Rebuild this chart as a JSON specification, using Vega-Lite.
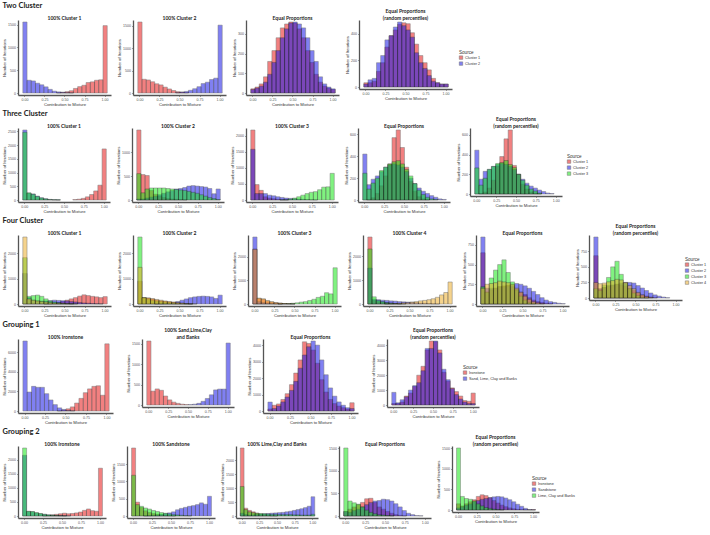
{
"$schema": "https://vega.github.io/schema/vega-lite/v6.json",
"background": "white",
"padding": {"left": 2, "top": 1, "right": 0, "bottom": 0},
"config": {
  "view": {"stroke": null},
  "bar": {"opacity": 0.55, "stroke": "#111", "strokeWidth": 0.5, "binSpacing": 0},
  "axis": {"grid": false, "domainColor": "#555", "domainWidth": 1.3, "tickColor": "#666", "tickSize": 1.5, "tickWidth": 0.6, "labelFontSize": 3.6, "labelColor": "#555", "labelFont": "Liberation Sans", "labelPadding": 1, "titleFontSize": 4.2, "titleFont": "Liberation Sans", "titleFontWeight": "normal", "titleColor": "#333", "titlePadding": 1},
  "title": {"fontSize": 5, "font": "Lato", "fontWeight": "bold", "color": "#222", "offset": -1},
  "legend": {"titleFontSize": 4.6, "titleFont": "Liberation Sans", "titleFontWeight": "normal", "titleColor": "#333", "labelFontSize": 3.8, "labelFont": "Liberation Sans", "labelColor": "#333", "symbolType": "square", "symbolSize": 12, "symbolOpacity": 0.55, "symbolStrokeColor": "#000", "symbolStrokeWidth": 0.5, "rowPadding": 0, "titlePadding": 1, "labelOffset": 2}
},
"datasets": {
"d1a": [{"s":"Cluster 1","x":0.395,"n":5},{"s":"Cluster 1","x":0.447,"n":15},{"s":"Cluster 1","x":0.5,"n":30},{"s":"Cluster 1","x":0.553,"n":50},{"s":"Cluster 1","x":0.605,"n":100},{"s":"Cluster 1","x":0.658,"n":140},{"s":"Cluster 1","x":0.711,"n":170},{"s":"Cluster 1","x":0.763,"n":230},{"s":"Cluster 1","x":0.816,"n":245},{"s":"Cluster 1","x":0.868,"n":280},{"s":"Cluster 1","x":0.921,"n":290},{"s":"Cluster 1","x":0.974,"n":1480},
{"s":"Cluster 2","x":-0.026,"n":1560},{"s":"Cluster 2","x":0.026,"n":280},{"s":"Cluster 2","x":0.079,"n":265},{"s":"Cluster 2","x":0.132,"n":215},{"s":"Cluster 2","x":0.184,"n":180},{"s":"Cluster 2","x":0.237,"n":135},{"s":"Cluster 2","x":0.289,"n":80},{"s":"Cluster 2","x":0.342,"n":40},{"s":"Cluster 2","x":0.395,"n":25},{"s":"Cluster 2","x":0.447,"n":15},{"s":"Cluster 2","x":0.5,"n":8},{"s":"Cluster 2","x":0.553,"n":3}],
"d1b": [{"s":"Cluster 1","x":-0.026,"n":1580},{"s":"Cluster 1","x":0.026,"n":305},{"s":"Cluster 1","x":0.079,"n":290},{"s":"Cluster 1","x":0.132,"n":250},{"s":"Cluster 1","x":0.184,"n":205},{"s":"Cluster 1","x":0.237,"n":180},{"s":"Cluster 1","x":0.289,"n":130},{"s":"Cluster 1","x":0.342,"n":90},{"s":"Cluster 1","x":0.395,"n":55},{"s":"Cluster 1","x":0.447,"n":30},{"s":"Cluster 1","x":0.5,"n":20},{"s":"Cluster 1","x":0.553,"n":8},
{"s":"Cluster 2","x":0.447,"n":8},{"s":"Cluster 2","x":0.5,"n":20},{"s":"Cluster 2","x":0.553,"n":35},{"s":"Cluster 2","x":0.605,"n":60},{"s":"Cluster 2","x":0.658,"n":95},{"s":"Cluster 2","x":0.711,"n":140},{"s":"Cluster 2","x":0.763,"n":210},{"s":"Cluster 2","x":0.816,"n":240},{"s":"Cluster 2","x":0.868,"n":300},{"s":"Cluster 2","x":0.921,"n":330},{"s":"Cluster 2","x":0.974,"n":1510}],
"d1c": [{"s":"Cluster 1","x":-0.026,"n":21},{"s":"Cluster 1","x":0.026,"n":30},{"s":"Cluster 1","x":0.079,"n":46},{"s":"Cluster 1","x":0.132,"n":82},{"s":"Cluster 1","x":0.184,"n":160},{"s":"Cluster 1","x":0.237,"n":215},{"s":"Cluster 1","x":0.289,"n":280},{"s":"Cluster 1","x":0.342,"n":330},{"s":"Cluster 1","x":0.395,"n":350},{"s":"Cluster 1","x":0.447,"n":360},{"s":"Cluster 1","x":0.5,"n":355},{"s":"Cluster 1","x":0.553,"n":325},{"s":"Cluster 1","x":0.605,"n":280},{"s":"Cluster 1","x":0.658,"n":215},{"s":"Cluster 1","x":0.711,"n":155},{"s":"Cluster 1","x":0.763,"n":95},{"s":"Cluster 1","x":0.816,"n":55},{"s":"Cluster 1","x":0.868,"n":35},{"s":"Cluster 1","x":0.921,"n":25},{"s":"Cluster 1","x":0.974,"n":18},
{"s":"Cluster 2","x":-0.026,"n":18},{"s":"Cluster 2","x":0.026,"n":25},{"s":"Cluster 2","x":0.079,"n":35},{"s":"Cluster 2","x":0.132,"n":55},{"s":"Cluster 2","x":0.184,"n":95},{"s":"Cluster 2","x":0.237,"n":155},{"s":"Cluster 2","x":0.289,"n":215},{"s":"Cluster 2","x":0.342,"n":280},{"s":"Cluster 2","x":0.395,"n":325},{"s":"Cluster 2","x":0.447,"n":355},{"s":"Cluster 2","x":0.5,"n":360},{"s":"Cluster 2","x":0.553,"n":350},{"s":"Cluster 2","x":0.605,"n":330},{"s":"Cluster 2","x":0.658,"n":280},{"s":"Cluster 2","x":0.711,"n":215},{"s":"Cluster 2","x":0.763,"n":160},{"s":"Cluster 2","x":0.816,"n":82},{"s":"Cluster 2","x":0.868,"n":46},{"s":"Cluster 2","x":0.921,"n":30},{"s":"Cluster 2","x":0.974,"n":21}],
"d1d": [{"s":"Cluster 1","x":-0.026,"n":32},{"s":"Cluster 1","x":0.026,"n":32},{"s":"Cluster 1","x":0.079,"n":43},{"s":"Cluster 1","x":0.132,"n":118},{"s":"Cluster 1","x":0.184,"n":183},{"s":"Cluster 1","x":0.237,"n":301},{"s":"Cluster 1","x":0.289,"n":387},{"s":"Cluster 1","x":0.342,"n":430},{"s":"Cluster 1","x":0.395,"n":473},{"s":"Cluster 1","x":0.447,"n":484},{"s":"Cluster 1","x":0.5,"n":477},{"s":"Cluster 1","x":0.553,"n":409},{"s":"Cluster 1","x":0.605,"n":323},{"s":"Cluster 1","x":0.658,"n":237},{"s":"Cluster 1","x":0.711,"n":183},{"s":"Cluster 1","x":0.763,"n":129},{"s":"Cluster 1","x":0.816,"n":65},{"s":"Cluster 1","x":0.868,"n":32},{"s":"Cluster 1","x":0.921,"n":22},{"s":"Cluster 1","x":0.974,"n":22},
{"s":"Cluster 2","x":-0.026,"n":22},{"s":"Cluster 2","x":0.026,"n":54},{"s":"Cluster 2","x":0.079,"n":65},{"s":"Cluster 2","x":0.132,"n":183},{"s":"Cluster 2","x":0.184,"n":237},{"s":"Cluster 2","x":0.237,"n":355},{"s":"Cluster 2","x":0.289,"n":387},{"s":"Cluster 2","x":0.342,"n":452},{"s":"Cluster 2","x":0.395,"n":490},{"s":"Cluster 2","x":0.447,"n":462},{"s":"Cluster 2","x":0.5,"n":430},{"s":"Cluster 2","x":0.553,"n":376},{"s":"Cluster 2","x":0.605,"n":258},{"s":"Cluster 2","x":0.658,"n":183},{"s":"Cluster 2","x":0.711,"n":140},{"s":"Cluster 2","x":0.763,"n":86},{"s":"Cluster 2","x":0.816,"n":43},{"s":"Cluster 2","x":0.868,"n":32},{"s":"Cluster 2","x":0.921,"n":22},{"s":"Cluster 2","x":0.974,"n":22}],
"d2a": [{"s":"Cluster 1","x":0.605,"n":15},{"s":"Cluster 1","x":0.658,"n":30},{"s":"Cluster 1","x":0.711,"n":60},{"s":"Cluster 1","x":0.763,"n":115},{"s":"Cluster 1","x":0.816,"n":200},{"s":"Cluster 1","x":0.868,"n":330},{"s":"Cluster 1","x":0.921,"n":540},{"s":"Cluster 1","x":0.974,"n":1860},
{"s":"Cluster 2","x":-0.026,"n":2550},{"s":"Cluster 2","x":0.026,"n":250},{"s":"Cluster 2","x":0.079,"n":220},{"s":"Cluster 2","x":0.132,"n":140},{"s":"Cluster 2","x":0.184,"n":80},{"s":"Cluster 2","x":0.237,"n":45},{"s":"Cluster 2","x":0.289,"n":20},{"s":"Cluster 2","x":0.342,"n":10},{"s":"Cluster 2","x":0.395,"n":5},
{"s":"Cluster 3","x":-0.026,"n":2470},{"s":"Cluster 3","x":0.026,"n":260},{"s":"Cluster 3","x":0.079,"n":210},{"s":"Cluster 3","x":0.132,"n":130},{"s":"Cluster 3","x":0.184,"n":75},{"s":"Cluster 3","x":0.237,"n":40},{"s":"Cluster 3","x":0.289,"n":20},{"s":"Cluster 3","x":0.342,"n":10},{"s":"Cluster 3","x":0.395,"n":5}],
"d2b": [{"s":"Cluster 1","x":-0.026,"n":1460},{"s":"Cluster 1","x":0.026,"n":530},{"s":"Cluster 1","x":0.079,"n":510},{"s":"Cluster 1","x":0.132,"n":200},{"s":"Cluster 1","x":0.184,"n":120},{"s":"Cluster 1","x":0.237,"n":80},{"s":"Cluster 1","x":0.289,"n":50},{"s":"Cluster 1","x":0.342,"n":30},{"s":"Cluster 1","x":0.395,"n":20},{"s":"Cluster 1","x":0.447,"n":15},{"s":"Cluster 1","x":0.5,"n":10},{"s":"Cluster 1","x":0.553,"n":5},
{"s":"Cluster 2","x":-0.026,"n":20},{"s":"Cluster 2","x":0.026,"n":20},{"s":"Cluster 2","x":0.079,"n":40},{"s":"Cluster 2","x":0.132,"n":60},{"s":"Cluster 2","x":0.184,"n":80},{"s":"Cluster 2","x":0.237,"n":110},{"s":"Cluster 2","x":0.289,"n":140},{"s":"Cluster 2","x":0.342,"n":170},{"s":"Cluster 2","x":0.395,"n":200},{"s":"Cluster 2","x":0.447,"n":230},{"s":"Cluster 2","x":0.5,"n":240},{"s":"Cluster 2","x":0.553,"n":260},{"s":"Cluster 2","x":0.605,"n":290},{"s":"Cluster 2","x":0.658,"n":300},{"s":"Cluster 2","x":0.711,"n":290},{"s":"Cluster 2","x":0.763,"n":280},{"s":"Cluster 2","x":0.816,"n":270},{"s":"Cluster 2","x":0.868,"n":240},{"s":"Cluster 2","x":0.921,"n":130},{"s":"Cluster 2","x":0.974,"n":230},
{"s":"Cluster 3","x":-0.026,"n":550},{"s":"Cluster 3","x":0.026,"n":150},{"s":"Cluster 3","x":0.079,"n":230},{"s":"Cluster 3","x":0.132,"n":250},{"s":"Cluster 3","x":0.184,"n":250},{"s":"Cluster 3","x":0.237,"n":250},{"s":"Cluster 3","x":0.289,"n":250},{"s":"Cluster 3","x":0.342,"n":240},{"s":"Cluster 3","x":0.395,"n":230},{"s":"Cluster 3","x":0.447,"n":220},{"s":"Cluster 3","x":0.5,"n":210},{"s":"Cluster 3","x":0.553,"n":200},{"s":"Cluster 3","x":0.605,"n":180},{"s":"Cluster 3","x":0.658,"n":160},{"s":"Cluster 3","x":0.711,"n":140},{"s":"Cluster 3","x":0.763,"n":110},{"s":"Cluster 3","x":0.816,"n":80},{"s":"Cluster 3","x":0.868,"n":50},{"s":"Cluster 3","x":0.921,"n":30},{"s":"Cluster 3","x":0.974,"n":10}],
"d2c": [{"s":"Cluster 1","x":-0.026,"n":2180},{"s":"Cluster 1","x":0.026,"n":480},{"s":"Cluster 1","x":0.079,"n":300},{"s":"Cluster 1","x":0.132,"n":100},{"s":"Cluster 1","x":0.184,"n":60},{"s":"Cluster 1","x":0.237,"n":40},{"s":"Cluster 1","x":0.289,"n":20},{"s":"Cluster 1","x":0.342,"n":10},{"s":"Cluster 1","x":0.395,"n":5},
{"s":"Cluster 2","x":-0.026,"n":1580},{"s":"Cluster 2","x":0.026,"n":200},{"s":"Cluster 2","x":0.079,"n":200},{"s":"Cluster 2","x":0.132,"n":200},{"s":"Cluster 2","x":0.184,"n":150},{"s":"Cluster 2","x":0.237,"n":130},{"s":"Cluster 2","x":0.289,"n":100},{"s":"Cluster 2","x":0.342,"n":80},{"s":"Cluster 2","x":0.395,"n":60},{"s":"Cluster 2","x":0.447,"n":50},{"s":"Cluster 2","x":0.5,"n":40},{"s":"Cluster 2","x":0.553,"n":30},{"s":"Cluster 2","x":0.605,"n":20},{"s":"Cluster 2","x":0.658,"n":15},{"s":"Cluster 2","x":0.711,"n":10},{"s":"Cluster 2","x":0.763,"n":5},
{"s":"Cluster 3","x":0.342,"n":5},{"s":"Cluster 3","x":0.395,"n":10},{"s":"Cluster 3","x":0.447,"n":30},{"s":"Cluster 3","x":0.5,"n":60},{"s":"Cluster 3","x":0.553,"n":100},{"s":"Cluster 3","x":0.605,"n":150},{"s":"Cluster 3","x":0.658,"n":200},{"s":"Cluster 3","x":0.711,"n":240},{"s":"Cluster 3","x":0.763,"n":260},{"s":"Cluster 3","x":0.816,"n":320},{"s":"Cluster 3","x":0.868,"n":400},{"s":"Cluster 3","x":0.921,"n":410},{"s":"Cluster 3","x":0.974,"n":830}],
"d2d": [{"s":"Cluster 1","x":0.026,"n":5},{"s":"Cluster 1","x":0.079,"n":20},{"s":"Cluster 1","x":0.132,"n":60},{"s":"Cluster 1","x":0.184,"n":130},{"s":"Cluster 1","x":0.237,"n":220},{"s":"Cluster 1","x":0.289,"n":330},{"s":"Cluster 1","x":0.342,"n":570},{"s":"Cluster 1","x":0.395,"n":640},{"s":"Cluster 1","x":0.447,"n":480},{"s":"Cluster 1","x":0.5,"n":300},{"s":"Cluster 1","x":0.553,"n":170},{"s":"Cluster 1","x":0.605,"n":80},{"s":"Cluster 1","x":0.658,"n":30},{"s":"Cluster 1","x":0.711,"n":10},{"s":"Cluster 1","x":0.763,"n":5},
{"s":"Cluster 2","x":-0.026,"n":420},{"s":"Cluster 2","x":0.026,"n":140},{"s":"Cluster 2","x":0.079,"n":190},{"s":"Cluster 2","x":0.132,"n":220},{"s":"Cluster 2","x":0.184,"n":260},{"s":"Cluster 2","x":0.237,"n":300},{"s":"Cluster 2","x":0.289,"n":320},{"s":"Cluster 2","x":0.342,"n":330},{"s":"Cluster 2","x":0.395,"n":320},{"s":"Cluster 2","x":0.447,"n":300},{"s":"Cluster 2","x":0.5,"n":260},{"s":"Cluster 2","x":0.553,"n":200},{"s":"Cluster 2","x":0.605,"n":150},{"s":"Cluster 2","x":0.658,"n":110},{"s":"Cluster 2","x":0.711,"n":80},{"s":"Cluster 2","x":0.763,"n":60},{"s":"Cluster 2","x":0.816,"n":40},{"s":"Cluster 2","x":0.868,"n":25},{"s":"Cluster 2","x":0.921,"n":10},{"s":"Cluster 2","x":0.974,"n":5},
{"s":"Cluster 3","x":-0.026,"n":245},{"s":"Cluster 3","x":0.026,"n":100},{"s":"Cluster 3","x":0.079,"n":155},{"s":"Cluster 3","x":0.132,"n":200},{"s":"Cluster 3","x":0.184,"n":270},{"s":"Cluster 3","x":0.237,"n":300},{"s":"Cluster 3","x":0.289,"n":330},{"s":"Cluster 3","x":0.342,"n":350},{"s":"Cluster 3","x":0.395,"n":360},{"s":"Cluster 3","x":0.447,"n":330},{"s":"Cluster 3","x":0.5,"n":280},{"s":"Cluster 3","x":0.553,"n":220},{"s":"Cluster 3","x":0.605,"n":150},{"s":"Cluster 3","x":0.658,"n":90},{"s":"Cluster 3","x":0.711,"n":50},{"s":"Cluster 3","x":0.763,"n":25},{"s":"Cluster 3","x":0.816,"n":10},{"s":"Cluster 3","x":0.868,"n":5}],
"d2e": [{"s":"Cluster 1","x":0.026,"n":5},{"s":"Cluster 1","x":0.079,"n":20},{"s":"Cluster 1","x":0.132,"n":60},{"s":"Cluster 1","x":0.184,"n":140},{"s":"Cluster 1","x":0.237,"n":280},{"s":"Cluster 1","x":0.289,"n":380},{"s":"Cluster 1","x":0.342,"n":560},{"s":"Cluster 1","x":0.395,"n":650},{"s":"Cluster 1","x":0.447,"n":290},{"s":"Cluster 1","x":0.5,"n":200},{"s":"Cluster 1","x":0.553,"n":100},{"s":"Cluster 1","x":0.605,"n":50},{"s":"Cluster 1","x":0.658,"n":20},{"s":"Cluster 1","x":0.711,"n":10},{"s":"Cluster 1","x":0.763,"n":5},
{"s":"Cluster 2","x":-0.026,"n":445},{"s":"Cluster 2","x":0.026,"n":150},{"s":"Cluster 2","x":0.079,"n":230},{"s":"Cluster 2","x":0.132,"n":250},{"s":"Cluster 2","x":0.184,"n":280},{"s":"Cluster 2","x":0.237,"n":300},{"s":"Cluster 2","x":0.289,"n":310},{"s":"Cluster 2","x":0.342,"n":300},{"s":"Cluster 2","x":0.395,"n":280},{"s":"Cluster 2","x":0.447,"n":250},{"s":"Cluster 2","x":0.5,"n":200},{"s":"Cluster 2","x":0.553,"n":150},{"s":"Cluster 2","x":0.605,"n":110},{"s":"Cluster 2","x":0.658,"n":80},{"s":"Cluster 2","x":0.711,"n":60},{"s":"Cluster 2","x":0.763,"n":40},{"s":"Cluster 2","x":0.816,"n":25},{"s":"Cluster 2","x":0.868,"n":10},{"s":"Cluster 2","x":0.921,"n":5},
{"s":"Cluster 3","x":-0.026,"n":265},{"s":"Cluster 3","x":0.026,"n":90},{"s":"Cluster 3","x":0.079,"n":160},{"s":"Cluster 3","x":0.132,"n":250},{"s":"Cluster 3","x":0.184,"n":280},{"s":"Cluster 3","x":0.237,"n":310},{"s":"Cluster 3","x":0.289,"n":320},{"s":"Cluster 3","x":0.342,"n":340},{"s":"Cluster 3","x":0.395,"n":300},{"s":"Cluster 3","x":0.447,"n":270},{"s":"Cluster 3","x":0.5,"n":200},{"s":"Cluster 3","x":0.553,"n":140},{"s":"Cluster 3","x":0.605,"n":90},{"s":"Cluster 3","x":0.658,"n":50},{"s":"Cluster 3","x":0.711,"n":30},{"s":"Cluster 3","x":0.763,"n":10}],
"d3a": [{"s":"Cluster 1","x":0.237,"n":5},{"s":"Cluster 1","x":0.289,"n":10},{"s":"Cluster 1","x":0.342,"n":30},{"s":"Cluster 1","x":0.395,"n":60},{"s":"Cluster 1","x":0.447,"n":100},{"s":"Cluster 1","x":0.5,"n":150},{"s":"Cluster 1","x":0.553,"n":200},{"s":"Cluster 1","x":0.605,"n":250},{"s":"Cluster 1","x":0.658,"n":310},{"s":"Cluster 1","x":0.711,"n":360},{"s":"Cluster 1","x":0.763,"n":330},{"s":"Cluster 1","x":0.816,"n":300},{"s":"Cluster 1","x":0.868,"n":280},{"s":"Cluster 1","x":0.921,"n":250},{"s":"Cluster 1","x":0.974,"n":290},
{"s":"Cluster 2","x":-0.026,"n":1200},{"s":"Cluster 2","x":0.026,"n":250},{"s":"Cluster 2","x":0.079,"n":150},{"s":"Cluster 2","x":0.132,"n":120},{"s":"Cluster 2","x":0.184,"n":110},{"s":"Cluster 2","x":0.237,"n":120},{"s":"Cluster 2","x":0.289,"n":130},{"s":"Cluster 2","x":0.342,"n":150},{"s":"Cluster 2","x":0.395,"n":140},{"s":"Cluster 2","x":0.447,"n":130},{"s":"Cluster 2","x":0.5,"n":120},{"s":"Cluster 2","x":0.553,"n":100},{"s":"Cluster 2","x":0.605,"n":80},{"s":"Cluster 2","x":0.658,"n":60},{"s":"Cluster 2","x":0.711,"n":40},{"s":"Cluster 2","x":0.763,"n":30},{"s":"Cluster 2","x":0.816,"n":20},{"s":"Cluster 2","x":0.868,"n":10},{"s":"Cluster 2","x":0.921,"n":5},
{"s":"Cluster 3","x":-0.026,"n":1820},{"s":"Cluster 3","x":0.026,"n":300},{"s":"Cluster 3","x":0.079,"n":330},{"s":"Cluster 3","x":0.132,"n":350},{"s":"Cluster 3","x":0.184,"n":300},{"s":"Cluster 3","x":0.237,"n":200},{"s":"Cluster 3","x":0.289,"n":120},{"s":"Cluster 3","x":0.342,"n":80},{"s":"Cluster 3","x":0.395,"n":50},{"s":"Cluster 3","x":0.447,"n":30},{"s":"Cluster 3","x":0.5,"n":20},{"s":"Cluster 3","x":0.553,"n":10},{"s":"Cluster 3","x":0.605,"n":5},
{"s":"Cluster 4","x":-0.026,"n":2630},{"s":"Cluster 4","x":0.026,"n":200},{"s":"Cluster 4","x":0.079,"n":150},{"s":"Cluster 4","x":0.132,"n":120},{"s":"Cluster 4","x":0.184,"n":100},{"s":"Cluster 4","x":0.237,"n":80},{"s":"Cluster 4","x":0.289,"n":60},{"s":"Cluster 4","x":0.342,"n":40},{"s":"Cluster 4","x":0.395,"n":30},{"s":"Cluster 4","x":0.447,"n":20},{"s":"Cluster 4","x":0.5,"n":10},{"s":"Cluster 4","x":0.553,"n":5}],
"d3b": [{"s":"Cluster 1","x":-0.026,"n":900},{"s":"Cluster 1","x":0.026,"n":250},{"s":"Cluster 1","x":0.079,"n":230},{"s":"Cluster 1","x":0.132,"n":200},{"s":"Cluster 1","x":0.184,"n":150},{"s":"Cluster 1","x":0.237,"n":120},{"s":"Cluster 1","x":0.289,"n":100},{"s":"Cluster 1","x":0.342,"n":80},{"s":"Cluster 1","x":0.395,"n":60},{"s":"Cluster 1","x":0.447,"n":40},{"s":"Cluster 1","x":0.5,"n":20},{"s":"Cluster 1","x":0.553,"n":10},{"s":"Cluster 1","x":0.605,"n":5},
{"s":"Cluster 2","x":0.184,"n":5},{"s":"Cluster 2","x":0.237,"n":10},{"s":"Cluster 2","x":0.289,"n":20},{"s":"Cluster 2","x":0.342,"n":40},{"s":"Cluster 2","x":0.395,"n":60},{"s":"Cluster 2","x":0.447,"n":100},{"s":"Cluster 2","x":0.5,"n":150},{"s":"Cluster 2","x":0.553,"n":200},{"s":"Cluster 2","x":0.605,"n":250},{"s":"Cluster 2","x":0.658,"n":280},{"s":"Cluster 2","x":0.711,"n":300},{"s":"Cluster 2","x":0.763,"n":310},{"s":"Cluster 2","x":0.816,"n":300},{"s":"Cluster 2","x":0.868,"n":280},{"s":"Cluster 2","x":0.921,"n":220},{"s":"Cluster 2","x":0.974,"n":350},
{"s":"Cluster 3","x":-0.026,"n":2650},{"s":"Cluster 3","x":0.026,"n":250},{"s":"Cluster 3","x":0.079,"n":200},{"s":"Cluster 3","x":0.132,"n":150},{"s":"Cluster 3","x":0.184,"n":120},{"s":"Cluster 3","x":0.237,"n":100},{"s":"Cluster 3","x":0.289,"n":80},{"s":"Cluster 3","x":0.342,"n":60},{"s":"Cluster 3","x":0.395,"n":40},{"s":"Cluster 3","x":0.447,"n":30},{"s":"Cluster 3","x":0.5,"n":20},{"s":"Cluster 3","x":0.553,"n":10},{"s":"Cluster 3","x":0.605,"n":5},
{"s":"Cluster 4","x":-0.026,"n":1450},{"s":"Cluster 4","x":0.026,"n":250},{"s":"Cluster 4","x":0.079,"n":240},{"s":"Cluster 4","x":0.132,"n":210},{"s":"Cluster 4","x":0.184,"n":180},{"s":"Cluster 4","x":0.237,"n":150},{"s":"Cluster 4","x":0.289,"n":120},{"s":"Cluster 4","x":0.342,"n":100},{"s":"Cluster 4","x":0.395,"n":80},{"s":"Cluster 4","x":0.447,"n":60},{"s":"Cluster 4","x":0.5,"n":40},{"s":"Cluster 4","x":0.553,"n":20},{"s":"Cluster 4","x":0.605,"n":10},{"s":"Cluster 4","x":0.658,"n":5}],
"d3c": [{"s":"Cluster 1","x":-0.026,"n":2330},{"s":"Cluster 1","x":0.026,"n":230},{"s":"Cluster 1","x":0.079,"n":200},{"s":"Cluster 1","x":0.132,"n":120},{"s":"Cluster 1","x":0.184,"n":80},{"s":"Cluster 1","x":0.237,"n":50},{"s":"Cluster 1","x":0.289,"n":30},{"s":"Cluster 1","x":0.342,"n":20},{"s":"Cluster 1","x":0.395,"n":10},{"s":"Cluster 1","x":0.447,"n":5},
{"s":"Cluster 2","x":-0.026,"n":2850},{"s":"Cluster 2","x":0.026,"n":100},{"s":"Cluster 2","x":0.079,"n":60},{"s":"Cluster 2","x":0.132,"n":40},{"s":"Cluster 2","x":0.184,"n":20},{"s":"Cluster 2","x":0.237,"n":10},{"s":"Cluster 2","x":0.289,"n":5},
{"s":"Cluster 3","x":0.289,"n":5},{"s":"Cluster 3","x":0.342,"n":10},{"s":"Cluster 3","x":0.395,"n":20},{"s":"Cluster 3","x":0.447,"n":30},{"s":"Cluster 3","x":0.5,"n":50},{"s":"Cluster 3","x":0.553,"n":80},{"s":"Cluster 3","x":0.605,"n":100},{"s":"Cluster 3","x":0.658,"n":150},{"s":"Cluster 3","x":0.711,"n":200},{"s":"Cluster 3","x":0.763,"n":280},{"s":"Cluster 3","x":0.816,"n":330},{"s":"Cluster 3","x":0.868,"n":480},{"s":"Cluster 3","x":0.921,"n":430},{"s":"Cluster 3","x":0.974,"n":1540},
{"s":"Cluster 4","x":-0.026,"n":2330},{"s":"Cluster 4","x":0.026,"n":250},{"s":"Cluster 4","x":0.079,"n":220},{"s":"Cluster 4","x":0.132,"n":150},{"s":"Cluster 4","x":0.184,"n":100},{"s":"Cluster 4","x":0.237,"n":60},{"s":"Cluster 4","x":0.289,"n":40},{"s":"Cluster 4","x":0.342,"n":20},{"s":"Cluster 4","x":0.395,"n":10},{"s":"Cluster 4","x":0.447,"n":5}],
"d3d": [{"s":"Cluster 1","x":-0.026,"n":2800},{"s":"Cluster 1","x":0.026,"n":150},{"s":"Cluster 1","x":0.079,"n":100},{"s":"Cluster 1","x":0.132,"n":80},{"s":"Cluster 1","x":0.184,"n":60},{"s":"Cluster 1","x":0.237,"n":40},{"s":"Cluster 1","x":0.289,"n":20},{"s":"Cluster 1","x":0.342,"n":10},
{"s":"Cluster 2","x":-0.026,"n":1500},{"s":"Cluster 2","x":0.026,"n":200},{"s":"Cluster 2","x":0.079,"n":180},{"s":"Cluster 2","x":0.132,"n":160},{"s":"Cluster 2","x":0.184,"n":150},{"s":"Cluster 2","x":0.237,"n":130},{"s":"Cluster 2","x":0.289,"n":120},{"s":"Cluster 2","x":0.342,"n":100},{"s":"Cluster 2","x":0.395,"n":90},{"s":"Cluster 2","x":0.447,"n":80},{"s":"Cluster 2","x":0.5,"n":70},{"s":"Cluster 2","x":0.553,"n":60},{"s":"Cluster 2","x":0.605,"n":40},{"s":"Cluster 2","x":0.658,"n":30},{"s":"Cluster 2","x":0.711,"n":20},{"s":"Cluster 2","x":0.763,"n":10},{"s":"Cluster 2","x":0.816,"n":5},
{"s":"Cluster 3","x":-0.026,"n":2300},{"s":"Cluster 3","x":0.026,"n":300},{"s":"Cluster 3","x":0.079,"n":150},{"s":"Cluster 3","x":0.132,"n":100},{"s":"Cluster 3","x":0.184,"n":60},{"s":"Cluster 3","x":0.237,"n":40},{"s":"Cluster 3","x":0.289,"n":20},{"s":"Cluster 3","x":0.342,"n":10},{"s":"Cluster 3","x":0.395,"n":5},
{"s":"Cluster 4","x":0.184,"n":5},{"s":"Cluster 4","x":0.237,"n":10},{"s":"Cluster 4","x":0.289,"n":20},{"s":"Cluster 4","x":0.342,"n":30},{"s":"Cluster 4","x":0.395,"n":50},{"s":"Cluster 4","x":0.447,"n":60},{"s":"Cluster 4","x":0.5,"n":80},{"s":"Cluster 4","x":0.553,"n":100},{"s":"Cluster 4","x":0.605,"n":130},{"s":"Cluster 4","x":0.658,"n":150},{"s":"Cluster 4","x":0.711,"n":180},{"s":"Cluster 4","x":0.763,"n":220},{"s":"Cluster 4","x":0.816,"n":280},{"s":"Cluster 4","x":0.868,"n":380},{"s":"Cluster 4","x":0.921,"n":480},{"s":"Cluster 4","x":0.974,"n":920}],
"d3e": [{"s":"Cluster 1","x":-0.026,"n":650},{"s":"Cluster 1","x":0.026,"n":150},{"s":"Cluster 1","x":0.079,"n":180},{"s":"Cluster 1","x":0.132,"n":200},{"s":"Cluster 1","x":0.184,"n":220},{"s":"Cluster 1","x":0.237,"n":230},{"s":"Cluster 1","x":0.289,"n":240},{"s":"Cluster 1","x":0.342,"n":220},{"s":"Cluster 1","x":0.395,"n":180},{"s":"Cluster 1","x":0.447,"n":150},{"s":"Cluster 1","x":0.5,"n":120},{"s":"Cluster 1","x":0.553,"n":80},{"s":"Cluster 1","x":0.605,"n":50},{"s":"Cluster 1","x":0.658,"n":30},{"s":"Cluster 1","x":0.711,"n":20},{"s":"Cluster 1","x":0.763,"n":10},{"s":"Cluster 1","x":0.816,"n":5},
{"s":"Cluster 2","x":-0.026,"n":850},{"s":"Cluster 2","x":0.026,"n":200},{"s":"Cluster 2","x":0.079,"n":200},{"s":"Cluster 2","x":0.132,"n":200},{"s":"Cluster 2","x":0.184,"n":220},{"s":"Cluster 2","x":0.237,"n":220},{"s":"Cluster 2","x":0.289,"n":230},{"s":"Cluster 2","x":0.342,"n":240},{"s":"Cluster 2","x":0.395,"n":260},{"s":"Cluster 2","x":0.447,"n":250},{"s":"Cluster 2","x":0.5,"n":230},{"s":"Cluster 2","x":0.553,"n":200},{"s":"Cluster 2","x":0.605,"n":160},{"s":"Cluster 2","x":0.658,"n":120},{"s":"Cluster 2","x":0.711,"n":80},{"s":"Cluster 2","x":0.763,"n":50},{"s":"Cluster 2","x":0.816,"n":30},{"s":"Cluster 2","x":0.868,"n":20},{"s":"Cluster 2","x":0.921,"n":10},{"s":"Cluster 2","x":0.974,"n":5},
{"s":"Cluster 3","x":-0.026,"n":220},{"s":"Cluster 3","x":0.026,"n":150},{"s":"Cluster 3","x":0.079,"n":330},{"s":"Cluster 3","x":0.132,"n":430},{"s":"Cluster 3","x":0.184,"n":500},{"s":"Cluster 3","x":0.237,"n":560},{"s":"Cluster 3","x":0.289,"n":400},{"s":"Cluster 3","x":0.342,"n":280},{"s":"Cluster 3","x":0.395,"n":180},{"s":"Cluster 3","x":0.447,"n":100},{"s":"Cluster 3","x":0.5,"n":50},{"s":"Cluster 3","x":0.553,"n":20},{"s":"Cluster 3","x":0.605,"n":10},
{"s":"Cluster 4","x":-0.026,"n":200},{"s":"Cluster 4","x":0.026,"n":250},{"s":"Cluster 4","x":0.079,"n":260},{"s":"Cluster 4","x":0.132,"n":270},{"s":"Cluster 4","x":0.184,"n":290},{"s":"Cluster 4","x":0.237,"n":280},{"s":"Cluster 4","x":0.289,"n":270},{"s":"Cluster 4","x":0.342,"n":250},{"s":"Cluster 4","x":0.395,"n":200},{"s":"Cluster 4","x":0.447,"n":150},{"s":"Cluster 4","x":0.5,"n":100},{"s":"Cluster 4","x":0.553,"n":60},{"s":"Cluster 4","x":0.605,"n":30},{"s":"Cluster 4","x":0.658,"n":15},{"s":"Cluster 4","x":0.711,"n":5}],
"d3f": [{"s":"Cluster 1","x":-0.026,"n":680},{"s":"Cluster 1","x":0.026,"n":140},{"s":"Cluster 1","x":0.079,"n":170},{"s":"Cluster 1","x":0.132,"n":190},{"s":"Cluster 1","x":0.184,"n":200},{"s":"Cluster 1","x":0.237,"n":220},{"s":"Cluster 1","x":0.289,"n":210},{"s":"Cluster 1","x":0.342,"n":190},{"s":"Cluster 1","x":0.395,"n":150},{"s":"Cluster 1","x":0.447,"n":120},{"s":"Cluster 1","x":0.5,"n":80},{"s":"Cluster 1","x":0.553,"n":50},{"s":"Cluster 1","x":0.605,"n":30},{"s":"Cluster 1","x":0.658,"n":15},{"s":"Cluster 1","x":0.711,"n":5},
{"s":"Cluster 2","x":-0.026,"n":980},{"s":"Cluster 2","x":0.026,"n":150},{"s":"Cluster 2","x":0.079,"n":170},{"s":"Cluster 2","x":0.132,"n":200},{"s":"Cluster 2","x":0.184,"n":210},{"s":"Cluster 2","x":0.237,"n":220},{"s":"Cluster 2","x":0.289,"n":240},{"s":"Cluster 2","x":0.342,"n":250},{"s":"Cluster 2","x":0.395,"n":250},{"s":"Cluster 2","x":0.447,"n":240},{"s":"Cluster 2","x":0.5,"n":200},{"s":"Cluster 2","x":0.553,"n":160},{"s":"Cluster 2","x":0.605,"n":120},{"s":"Cluster 2","x":0.658,"n":80},{"s":"Cluster 2","x":0.711,"n":50},{"s":"Cluster 2","x":0.763,"n":30},{"s":"Cluster 2","x":0.816,"n":15},{"s":"Cluster 2","x":0.868,"n":5},
{"s":"Cluster 3","x":-0.026,"n":150},{"s":"Cluster 3","x":0.026,"n":120},{"s":"Cluster 3","x":0.079,"n":210},{"s":"Cluster 3","x":0.132,"n":330},{"s":"Cluster 3","x":0.184,"n":500},{"s":"Cluster 3","x":0.237,"n":590},{"s":"Cluster 3","x":0.289,"n":380},{"s":"Cluster 3","x":0.342,"n":240},{"s":"Cluster 3","x":0.395,"n":150},{"s":"Cluster 3","x":0.447,"n":80},{"s":"Cluster 3","x":0.5,"n":40},{"s":"Cluster 3","x":0.553,"n":15},{"s":"Cluster 3","x":0.605,"n":5},
{"s":"Cluster 4","x":-0.026,"n":250},{"s":"Cluster 4","x":0.026,"n":230},{"s":"Cluster 4","x":0.079,"n":240},{"s":"Cluster 4","x":0.132,"n":260},{"s":"Cluster 4","x":0.184,"n":280},{"s":"Cluster 4","x":0.237,"n":300},{"s":"Cluster 4","x":0.289,"n":290},{"s":"Cluster 4","x":0.342,"n":250},{"s":"Cluster 4","x":0.395,"n":200},{"s":"Cluster 4","x":0.447,"n":150},{"s":"Cluster 4","x":0.5,"n":90},{"s":"Cluster 4","x":0.553,"n":50},{"s":"Cluster 4","x":0.605,"n":25},{"s":"Cluster 4","x":0.658,"n":10}],
"d4a": [{"s":"Ironstone","x":0.395,"n":20},{"s":"Ironstone","x":0.447,"n":80},{"s":"Ironstone","x":0.5,"n":225},{"s":"Ironstone","x":0.553,"n":420},{"s":"Ironstone","x":0.605,"n":810},{"s":"Ironstone","x":0.658,"n":1290},{"s":"Ironstone","x":0.711,"n":1870},{"s":"Ironstone","x":0.763,"n":2260},{"s":"Ironstone","x":0.816,"n":2520},{"s":"Ironstone","x":0.868,"n":2580},{"s":"Ironstone","x":0.921,"n":1610},{"s":"Ironstone","x":0.974,"n":6870},
{"s":"Sand, Lime, Clay and Banks","x":-0.026,"n":7160},{"s":"Sand, Lime, Clay and Banks","x":0.026,"n":1940},{"s":"Sand, Lime, Clay and Banks","x":0.079,"n":2520},{"s":"Sand, Lime, Clay and Banks","x":0.132,"n":2420},{"s":"Sand, Lime, Clay and Banks","x":0.184,"n":2420},{"s":"Sand, Lime, Clay and Banks","x":0.237,"n":1770},{"s":"Sand, Lime, Clay and Banks","x":0.289,"n":1130},{"s":"Sand, Lime, Clay and Banks","x":0.342,"n":650},{"s":"Sand, Lime, Clay and Banks","x":0.395,"n":320},{"s":"Sand, Lime, Clay and Banks","x":0.447,"n":160},{"s":"Sand, Lime, Clay and Banks","x":0.5,"n":60},{"s":"Sand, Lime, Clay and Banks","x":0.553,"n":20}],
"d4b": [{"s":"Ironstone","x":-0.026,"n":1570},{"s":"Ironstone","x":0.026,"n":340},{"s":"Ironstone","x":0.079,"n":395},{"s":"Ironstone","x":0.132,"n":360},{"s":"Ironstone","x":0.184,"n":220},{"s":"Ironstone","x":0.237,"n":125},{"s":"Ironstone","x":0.289,"n":70},{"s":"Ironstone","x":0.342,"n":40},{"s":"Ironstone","x":0.395,"n":20},{"s":"Ironstone","x":0.447,"n":10},
{"s":"Sand, Lime, Clay and Banks","x":0.5,"n":10},{"s":"Sand, Lime, Clay and Banks","x":0.553,"n":20},{"s":"Sand, Lime, Clay and Banks","x":0.605,"n":40},{"s":"Sand, Lime, Clay and Banks","x":0.658,"n":90},{"s":"Sand, Lime, Clay and Banks","x":0.711,"n":160},{"s":"Sand, Lime, Clay and Banks","x":0.763,"n":250},{"s":"Sand, Lime, Clay and Banks","x":0.816,"n":370},{"s":"Sand, Lime, Clay and Banks","x":0.868,"n":390},{"s":"Sand, Lime, Clay and Banks","x":0.921,"n":390},{"s":"Sand, Lime, Clay and Banks","x":0.974,"n":1520}],
"d4c": [{"s":"Ironstone","x":-0.026,"n":120},{"s":"Ironstone","x":0.026,"n":350},{"s":"Ironstone","x":0.079,"n":430},{"s":"Ironstone","x":0.132,"n":700},{"s":"Ironstone","x":0.184,"n":1050},{"s":"Ironstone","x":0.237,"n":1600},{"s":"Ironstone","x":0.289,"n":2300},{"s":"Ironstone","x":0.342,"n":3100},{"s":"Ironstone","x":0.395,"n":4200},{"s":"Ironstone","x":0.447,"n":4100},{"s":"Ironstone","x":0.5,"n":3700},{"s":"Ironstone","x":0.553,"n":2900},{"s":"Ironstone","x":0.605,"n":1900},{"s":"Ironstone","x":0.658,"n":1150},{"s":"Ironstone","x":0.711,"n":700},{"s":"Ironstone","x":0.763,"n":450},{"s":"Ironstone","x":0.816,"n":300},{"s":"Ironstone","x":0.868,"n":200},{"s":"Ironstone","x":0.921,"n":120},{"s":"Ironstone","x":0.974,"n":500},
{"s":"Sand, Lime, Clay and Banks","x":-0.026,"n":540},{"s":"Sand, Lime, Clay and Banks","x":0.026,"n":150},{"s":"Sand, Lime, Clay and Banks","x":0.079,"n":300},{"s":"Sand, Lime, Clay and Banks","x":0.132,"n":550},{"s":"Sand, Lime, Clay and Banks","x":0.184,"n":850},{"s":"Sand, Lime, Clay and Banks","x":0.237,"n":1250},{"s":"Sand, Lime, Clay and Banks","x":0.289,"n":1800},{"s":"Sand, Lime, Clay and Banks","x":0.342,"n":2600},{"s":"Sand, Lime, Clay and Banks","x":0.395,"n":3400},{"s":"Sand, Lime, Clay and Banks","x":0.447,"n":3900},{"s":"Sand, Lime, Clay and Banks","x":0.5,"n":4250},{"s":"Sand, Lime, Clay and Banks","x":0.553,"n":4000},{"s":"Sand, Lime, Clay and Banks","x":0.605,"n":3100},{"s":"Sand, Lime, Clay and Banks","x":0.658,"n":2200},{"s":"Sand, Lime, Clay and Banks","x":0.711,"n":1400},{"s":"Sand, Lime, Clay and Banks","x":0.763,"n":900},{"s":"Sand, Lime, Clay and Banks","x":0.816,"n":550},{"s":"Sand, Lime, Clay and Banks","x":0.868,"n":350},{"s":"Sand, Lime, Clay and Banks","x":0.921,"n":200},{"s":"Sand, Lime, Clay and Banks","x":0.974,"n":150}],
"d4d": [{"s":"Ironstone","x":-0.026,"n":100},{"s":"Ironstone","x":0.026,"n":100},{"s":"Ironstone","x":0.079,"n":200},{"s":"Ironstone","x":0.132,"n":600},{"s":"Ironstone","x":0.184,"n":800},{"s":"Ironstone","x":0.237,"n":1250},{"s":"Ironstone","x":0.289,"n":2000},{"s":"Ironstone","x":0.342,"n":2600},{"s":"Ironstone","x":0.395,"n":3700},{"s":"Ironstone","x":0.447,"n":4300},{"s":"Ironstone","x":0.5,"n":4250},{"s":"Ironstone","x":0.553,"n":3700},{"s":"Ironstone","x":0.605,"n":2200},{"s":"Ironstone","x":0.658,"n":1600},{"s":"Ironstone","x":0.711,"n":1150},{"s":"Ironstone","x":0.763,"n":900},{"s":"Ironstone","x":0.816,"n":600},{"s":"Ironstone","x":0.868,"n":300},{"s":"Ironstone","x":0.921,"n":250},{"s":"Ironstone","x":0.974,"n":800},
{"s":"Sand, Lime, Clay and Banks","x":-0.026,"n":850},{"s":"Sand, Lime, Clay and Banks","x":0.026,"n":150},{"s":"Sand, Lime, Clay and Banks","x":0.079,"n":350},{"s":"Sand, Lime, Clay and Banks","x":0.132,"n":550},{"s":"Sand, Lime, Clay and Banks","x":0.184,"n":1000},{"s":"Sand, Lime, Clay and Banks","x":0.237,"n":1300},{"s":"Sand, Lime, Clay and Banks","x":0.289,"n":1500},{"s":"Sand, Lime, Clay and Banks","x":0.342,"n":2300},{"s":"Sand, Lime, Clay and Banks","x":0.395,"n":3800},{"s":"Sand, Lime, Clay and Banks","x":0.447,"n":3800},{"s":"Sand, Lime, Clay and Banks","x":0.5,"n":4300},{"s":"Sand, Lime, Clay and Banks","x":0.553,"n":3500},{"s":"Sand, Lime, Clay and Banks","x":0.605,"n":2400},{"s":"Sand, Lime, Clay and Banks","x":0.658,"n":1700},{"s":"Sand, Lime, Clay and Banks","x":0.711,"n":1100},{"s":"Sand, Lime, Clay and Banks","x":0.763,"n":700},{"s":"Sand, Lime, Clay and Banks","x":0.816,"n":400},{"s":"Sand, Lime, Clay and Banks","x":0.868,"n":200},{"s":"Sand, Lime, Clay and Banks","x":0.921,"n":100},{"s":"Sand, Lime, Clay and Banks","x":0.974,"n":100}],
"d5a": [{"s":"Ironstone","x":0.237,"n":10},{"s":"Ironstone","x":0.289,"n":20},{"s":"Ironstone","x":0.342,"n":40},{"s":"Ironstone","x":0.395,"n":60},{"s":"Ironstone","x":0.447,"n":80},{"s":"Ironstone","x":0.5,"n":100},{"s":"Ironstone","x":0.553,"n":80},{"s":"Ironstone","x":0.605,"n":90},{"s":"Ironstone","x":0.658,"n":110},{"s":"Ironstone","x":0.711,"n":140},{"s":"Ironstone","x":0.763,"n":200},{"s":"Ironstone","x":0.816,"n":250},{"s":"Ironstone","x":0.868,"n":190},{"s":"Ironstone","x":0.921,"n":170},{"s":"Ironstone","x":0.974,"n":1700},
{"s":"Sandstone","x":-0.026,"n":2160},{"s":"Sandstone","x":0.026,"n":160},{"s":"Sandstone","x":0.079,"n":150},{"s":"Sandstone","x":0.132,"n":110},{"s":"Sandstone","x":0.184,"n":80},{"s":"Sandstone","x":0.237,"n":60},{"s":"Sandstone","x":0.289,"n":40},{"s":"Sandstone","x":0.342,"n":30},{"s":"Sandstone","x":0.395,"n":20},{"s":"Sandstone","x":0.447,"n":20},{"s":"Sandstone","x":0.5,"n":10},{"s":"Sandstone","x":0.553,"n":5},
{"s":"Lime, Clay and Banks","x":-0.026,"n":2420},{"s":"Lime, Clay and Banks","x":0.026,"n":170},{"s":"Lime, Clay and Banks","x":0.079,"n":160},{"s":"Lime, Clay and Banks","x":0.132,"n":120},{"s":"Lime, Clay and Banks","x":0.184,"n":90},{"s":"Lime, Clay and Banks","x":0.237,"n":60},{"s":"Lime, Clay and Banks","x":0.289,"n":40},{"s":"Lime, Clay and Banks","x":0.342,"n":30},{"s":"Lime, Clay and Banks","x":0.395,"n":20},{"s":"Lime, Clay and Banks","x":0.447,"n":10},{"s":"Lime, Clay and Banks","x":0.5,"n":5}],
"d5b": [{"s":"Ironstone","x":-0.026,"n":1970},{"s":"Ironstone","x":0.026,"n":400},{"s":"Ironstone","x":0.079,"n":250},{"s":"Ironstone","x":0.132,"n":150},{"s":"Ironstone","x":0.184,"n":100},{"s":"Ironstone","x":0.237,"n":70},{"s":"Ironstone","x":0.289,"n":50},{"s":"Ironstone","x":0.342,"n":30},{"s":"Ironstone","x":0.395,"n":20},{"s":"Ironstone","x":0.447,"n":10},{"s":"Ironstone","x":0.5,"n":5},
{"s":"Sandstone","x":0.132,"n":5},{"s":"Sandstone","x":0.184,"n":10},{"s":"Sandstone","x":0.237,"n":20},{"s":"Sandstone","x":0.289,"n":30},{"s":"Sandstone","x":0.342,"n":50},{"s":"Sandstone","x":0.395,"n":70},{"s":"Sandstone","x":0.447,"n":90},{"s":"Sandstone","x":0.5,"n":120},{"s":"Sandstone","x":0.553,"n":180},{"s":"Sandstone","x":0.605,"n":220},{"s":"Sandstone","x":0.658,"n":250},{"s":"Sandstone","x":0.711,"n":280},{"s":"Sandstone","x":0.763,"n":300},{"s":"Sandstone","x":0.816,"n":330},{"s":"Sandstone","x":0.868,"n":380},{"s":"Sandstone","x":0.921,"n":340},{"s":"Sandstone","x":0.974,"n":570},
{"s":"Lime, Clay and Banks","x":-0.026,"n":1180},{"s":"Lime, Clay and Banks","x":0.026,"n":330},{"s":"Lime, Clay and Banks","x":0.079,"n":280},{"s":"Lime, Clay and Banks","x":0.132,"n":230},{"s":"Lime, Clay and Banks","x":0.184,"n":200},{"s":"Lime, Clay and Banks","x":0.237,"n":160},{"s":"Lime, Clay and Banks","x":0.289,"n":130},{"s":"Lime, Clay and Banks","x":0.342,"n":100},{"s":"Lime, Clay and Banks","x":0.395,"n":80},{"s":"Lime, Clay and Banks","x":0.447,"n":60},{"s":"Lime, Clay and Banks","x":0.5,"n":40},{"s":"Lime, Clay and Banks","x":0.553,"n":30},{"s":"Lime, Clay and Banks","x":0.605,"n":20},{"s":"Lime, Clay and Banks","x":0.658,"n":10},{"s":"Lime, Clay and Banks","x":0.711,"n":5}],
"d5c": [{"s":"Ironstone","x":-0.026,"n":2440},{"s":"Ironstone","x":0.026,"n":280},{"s":"Ironstone","x":0.079,"n":200},{"s":"Ironstone","x":0.132,"n":150},{"s":"Ironstone","x":0.184,"n":100},{"s":"Ironstone","x":0.237,"n":60},{"s":"Ironstone","x":0.289,"n":40},{"s":"Ironstone","x":0.342,"n":20},{"s":"Ironstone","x":0.395,"n":10},{"s":"Ironstone","x":0.447,"n":5},
{"s":"Sandstone","x":-0.026,"n":100},{"s":"Sandstone","x":0.026,"n":50},{"s":"Sandstone","x":0.079,"n":30},{"s":"Sandstone","x":0.132,"n":40},{"s":"Sandstone","x":0.184,"n":60},{"s":"Sandstone","x":0.237,"n":70},{"s":"Sandstone","x":0.289,"n":80},{"s":"Sandstone","x":0.342,"n":90},{"s":"Sandstone","x":0.395,"n":100},{"s":"Sandstone","x":0.447,"n":110},{"s":"Sandstone","x":0.5,"n":120},{"s":"Sandstone","x":0.553,"n":130},{"s":"Sandstone","x":0.605,"n":150},{"s":"Sandstone","x":0.658,"n":170},{"s":"Sandstone","x":0.711,"n":200},{"s":"Sandstone","x":0.763,"n":230},{"s":"Sandstone","x":0.816,"n":260},{"s":"Sandstone","x":0.868,"n":300},{"s":"Sandstone","x":0.921,"n":350},{"s":"Sandstone","x":0.974,"n":690},
{"s":"Lime, Clay and Banks","x":-0.026,"n":1060},{"s":"Lime, Clay and Banks","x":0.026,"n":230},{"s":"Lime, Clay and Banks","x":0.079,"n":150},{"s":"Lime, Clay and Banks","x":0.132,"n":120},{"s":"Lime, Clay and Banks","x":0.184,"n":100},{"s":"Lime, Clay and Banks","x":0.237,"n":90},{"s":"Lime, Clay and Banks","x":0.289,"n":80},{"s":"Lime, Clay and Banks","x":0.342,"n":70},{"s":"Lime, Clay and Banks","x":0.395,"n":60},{"s":"Lime, Clay and Banks","x":0.447,"n":60},{"s":"Lime, Clay and Banks","x":0.5,"n":50},{"s":"Lime, Clay and Banks","x":0.553,"n":50},{"s":"Lime, Clay and Banks","x":0.605,"n":50},{"s":"Lime, Clay and Banks","x":0.658,"n":50},{"s":"Lime, Clay and Banks","x":0.711,"n":40},{"s":"Lime, Clay and Banks","x":0.763,"n":40},{"s":"Lime, Clay and Banks","x":0.816,"n":30},{"s":"Lime, Clay and Banks","x":0.868,"n":30},{"s":"Lime, Clay and Banks","x":0.921,"n":30},{"s":"Lime, Clay and Banks","x":0.974,"n":60}],
"d5d": [{"s":"Ironstone","x":-0.026,"n":100},{"s":"Ironstone","x":0.026,"n":150},{"s":"Ironstone","x":0.079,"n":200},{"s":"Ironstone","x":0.132,"n":250},{"s":"Ironstone","x":0.184,"n":300},{"s":"Ironstone","x":0.237,"n":380},{"s":"Ironstone","x":0.289,"n":390},{"s":"Ironstone","x":0.342,"n":300},{"s":"Ironstone","x":0.395,"n":200},{"s":"Ironstone","x":0.447,"n":150},{"s":"Ironstone","x":0.5,"n":100},{"s":"Ironstone","x":0.553,"n":60},{"s":"Ironstone","x":0.605,"n":30},{"s":"Ironstone","x":0.658,"n":15},{"s":"Ironstone","x":0.711,"n":5},
{"s":"Sandstone","x":-0.026,"n":100},{"s":"Sandstone","x":0.026,"n":80},{"s":"Sandstone","x":0.079,"n":120},{"s":"Sandstone","x":0.132,"n":150},{"s":"Sandstone","x":0.184,"n":200},{"s":"Sandstone","x":0.237,"n":250},{"s":"Sandstone","x":0.289,"n":300},{"s":"Sandstone","x":0.342,"n":330},{"s":"Sandstone","x":0.395,"n":340},{"s":"Sandstone","x":0.447,"n":370},{"s":"Sandstone","x":0.5,"n":360},{"s":"Sandstone","x":0.553,"n":330},{"s":"Sandstone","x":0.605,"n":270},{"s":"Sandstone","x":0.658,"n":200},{"s":"Sandstone","x":0.711,"n":120},{"s":"Sandstone","x":0.763,"n":60},{"s":"Sandstone","x":0.816,"n":30},{"s":"Sandstone","x":0.868,"n":10},{"s":"Sandstone","x":0.921,"n":5},
{"s":"Lime, Clay and Banks","x":-0.026,"n":1500},{"s":"Lime, Clay and Banks","x":0.026,"n":330},{"s":"Lime, Clay and Banks","x":0.079,"n":290},{"s":"Lime, Clay and Banks","x":0.132,"n":260},{"s":"Lime, Clay and Banks","x":0.184,"n":200},{"s":"Lime, Clay and Banks","x":0.237,"n":130},{"s":"Lime, Clay and Banks","x":0.289,"n":80},{"s":"Lime, Clay and Banks","x":0.342,"n":50},{"s":"Lime, Clay and Banks","x":0.395,"n":30},{"s":"Lime, Clay and Banks","x":0.447,"n":20},{"s":"Lime, Clay and Banks","x":0.5,"n":10},{"s":"Lime, Clay and Banks","x":0.553,"n":5}],
"d5e": [{"s":"Ironstone","x":-0.026,"n":150},{"s":"Ironstone","x":0.026,"n":100},{"s":"Ironstone","x":0.079,"n":150},{"s":"Ironstone","x":0.132,"n":200},{"s":"Ironstone","x":0.184,"n":250},{"s":"Ironstone","x":0.237,"n":330},{"s":"Ironstone","x":0.289,"n":370},{"s":"Ironstone","x":0.342,"n":350},{"s":"Ironstone","x":0.395,"n":300},{"s":"Ironstone","x":0.447,"n":230},{"s":"Ironstone","x":0.5,"n":170},{"s":"Ironstone","x":0.553,"n":120},{"s":"Ironstone","x":0.605,"n":80},{"s":"Ironstone","x":0.658,"n":50},{"s":"Ironstone","x":0.711,"n":30},{"s":"Ironstone","x":0.763,"n":15},{"s":"Ironstone","x":0.816,"n":10},{"s":"Ironstone","x":0.868,"n":5},{"s":"Ironstone","x":0.921,"n":5},{"s":"Ironstone","x":0.974,"n":10},
{"s":"Sandstone","x":-0.026,"n":50},{"s":"Sandstone","x":0.026,"n":80},{"s":"Sandstone","x":0.079,"n":120},{"s":"Sandstone","x":0.132,"n":150},{"s":"Sandstone","x":0.184,"n":200},{"s":"Sandstone","x":0.237,"n":230},{"s":"Sandstone","x":0.289,"n":260},{"s":"Sandstone","x":0.342,"n":280},{"s":"Sandstone","x":0.395,"n":300},{"s":"Sandstone","x":0.447,"n":320},{"s":"Sandstone","x":0.5,"n":330},{"s":"Sandstone","x":0.553,"n":320},{"s":"Sandstone","x":0.605,"n":290},{"s":"Sandstone","x":0.658,"n":250},{"s":"Sandstone","x":0.711,"n":200},{"s":"Sandstone","x":0.763,"n":140},{"s":"Sandstone","x":0.816,"n":90},{"s":"Sandstone","x":0.868,"n":40},{"s":"Sandstone","x":0.921,"n":10},{"s":"Sandstone","x":0.974,"n":5},
{"s":"Lime, Clay and Banks","x":-0.026,"n":1510},{"s":"Lime, Clay and Banks","x":0.026,"n":330},{"s":"Lime, Clay and Banks","x":0.079,"n":280},{"s":"Lime, Clay and Banks","x":0.132,"n":260},{"s":"Lime, Clay and Banks","x":0.184,"n":220},{"s":"Lime, Clay and Banks","x":0.237,"n":150},{"s":"Lime, Clay and Banks","x":0.289,"n":100},{"s":"Lime, Clay and Banks","x":0.342,"n":60},{"s":"Lime, Clay and Banks","x":0.395,"n":40},{"s":"Lime, Clay and Banks","x":0.447,"n":20},{"s":"Lime, Clay and Banks","x":0.5,"n":10},{"s":"Lime, Clay and Banks","x":0.553,"n":5}]
},
"spacing": 2,
"resolve": {"scale": {"color": "independent"}, "legend": {"color": "independent"}},
"vconcat": [
{"title": {"text": "Two Cluster", "anchor": "start", "fontSize": 7.5, "offset": 0}, "spacing": 6,
 "resolve": {"scale": {"color": "independent"}, "legend": {"color": "independent"}},
 "hconcat": [
  {"title": "100% Cluster 1", "width": 93, "height": 75, "data": {"name": "d1a"}, "mark": "bar",
   "encoding": {"x": {"field": "x", "type": "quantitative", "bin": {"binned": true, "step": 0.0526}, "scale": {"domain": [-0.08, 1.08]}, "axis": {"values": [0, 0.25, 0.5, 0.75, 1], "format": ".2f", "title": "Contribution to Mixture"}},
    "y": {"field": "n", "type": "quantitative", "stack": null, "scale": {"nice": false, "padding": 2}, "axis": {"values": [0, 500, 1000, 1500], "format": "d", "title": "Number of Iterations"}},
    "color": {"field": "s", "type": "nominal", "scale": {"domain": ["Cluster 1", "Cluster 2"], "range": ["#E81A1A", "#1A1AE8"]}, "legend": null}}},
  {"title": "100% Cluster 2", "width": 93, "height": 75, "data": {"name": "d1b"}, "mark": "bar",
   "encoding": {"x": {"field": "x", "type": "quantitative", "bin": {"binned": true, "step": 0.0526}, "scale": {"domain": [-0.08, 1.08]}, "axis": {"values": [0, 0.25, 0.5, 0.75, 1], "format": ".2f", "title": "Contribution to Mixture"}},
    "y": {"field": "n", "type": "quantitative", "stack": null, "scale": {"nice": false, "padding": 2}, "axis": {"values": [0, 500, 1000, 1500], "format": "d", "title": "Number of Iterations"}},
    "color": {"field": "s", "type": "nominal", "scale": {"domain": ["Cluster 1", "Cluster 2"], "range": ["#E81A1A", "#1A1AE8"]}, "legend": null}}},
  {"title": "Equal Proportions", "width": 93, "height": 75, "data": {"name": "d1c"}, "mark": "bar",
   "encoding": {"x": {"field": "x", "type": "quantitative", "bin": {"binned": true, "step": 0.0526}, "scale": {"domain": [-0.08, 1.08]}, "axis": {"values": [0, 0.25, 0.5, 0.75, 1], "format": ".2f", "title": "Contribution to Mixture"}},
    "y": {"field": "n", "type": "quantitative", "stack": null, "scale": {"nice": false, "padding": 2}, "axis": {"values": [0, 100, 200, 300], "format": "d", "title": "Number of Iterations"}},
    "color": {"field": "s", "type": "nominal", "scale": {"domain": ["Cluster 1", "Cluster 2"], "range": ["#E81A1A", "#1A1AE8"]}, "legend": null}}},
  {"title": {"text": ["Equal Proportions", "(random percentiles)"]}, "width": 93, "height": 69, "data": {"name": "d1d"}, "mark": "bar",
   "encoding": {"x": {"field": "x", "type": "quantitative", "bin": {"binned": true, "step": 0.0526}, "scale": {"domain": [-0.08, 1.08]}, "axis": {"values": [0, 0.25, 0.5, 0.75, 1], "format": ".2f", "title": "Contribution to Mixture"}},
    "y": {"field": "n", "type": "quantitative", "stack": null, "scale": {"nice": false, "padding": 2}, "axis": {"values": [0, 200, 400], "format": "d", "title": "Number of Iterations"}},
    "color": {"field": "s", "type": "nominal", "scale": {"domain": ["Cluster 1", "Cluster 2"], "range": ["#E81A1A", "#1A1AE8"]}, "legend": {"title": "Source", "orient": "none", "legendX": 100, "legendY": 30}}}}
 ]},
{"title": {"text": "Three Cluster", "anchor": "start", "fontSize": 7.5, "offset": 0}, "spacing": 6,
 "resolve": {"scale": {"color": "independent"}, "legend": {"color": "independent"}},
 "hconcat": [
  {"title": "100% Cluster 1", "width": 92, "height": 74, "data": {"name": "d2a"}, "mark": "bar",
   "encoding": {"x": {"field": "x", "type": "quantitative", "bin": {"binned": true, "step": 0.0526}, "scale": {"domain": [-0.08, 1.08]}, "axis": {"values": [0, 0.25, 0.5, 0.75, 1], "format": ".2f", "title": "Contribution to Mixture"}},
    "y": {"field": "n", "type": "quantitative", "stack": null, "scale": {"nice": false, "padding": 2}, "axis": {"values": [0, 500, 1000, 1500, 2000, 2500], "format": "d", "title": "Number of Iterations"}},
    "color": {"field": "s", "type": "nominal", "scale": {"domain": ["Cluster 1", "Cluster 2", "Cluster 3"], "range": ["#E81A1A", "#1A1AE8", "#1AE81A"]}, "legend": null}}},
  {"title": "100% Cluster 2", "width": 92, "height": 74, "data": {"name": "d2b"}, "mark": "bar",
   "encoding": {"x": {"field": "x", "type": "quantitative", "bin": {"binned": true, "step": 0.0526}, "scale": {"domain": [-0.08, 1.08]}, "axis": {"values": [0, 0.25, 0.5, 0.75, 1], "format": ".2f", "title": "Contribution to Mixture"}},
    "y": {"field": "n", "type": "quantitative", "stack": null, "scale": {"nice": false, "padding": 2}, "axis": {"values": [0, 500, 1000], "format": "d", "title": "Number of Iterations"}},
    "color": {"field": "s", "type": "nominal", "scale": {"domain": ["Cluster 1", "Cluster 2", "Cluster 3"], "range": ["#E81A1A", "#1A1AE8", "#1AE81A"]}, "legend": null}}},
  {"title": "100% Cluster 3", "width": 92, "height": 74, "data": {"name": "d2c"}, "mark": "bar",
   "encoding": {"x": {"field": "x", "type": "quantitative", "bin": {"binned": true, "step": 0.0526}, "scale": {"domain": [-0.08, 1.08]}, "axis": {"values": [0, 0.25, 0.5, 0.75, 1], "format": ".2f", "title": "Contribution to Mixture"}},
    "y": {"field": "n", "type": "quantitative", "stack": null, "scale": {"nice": false, "padding": 2}, "axis": {"values": [0, 500, 1000, 1500, 2000], "format": "d", "title": "Number of Iterations"}},
    "color": {"field": "s", "type": "nominal", "scale": {"domain": ["Cluster 1", "Cluster 2", "Cluster 3"], "range": ["#E81A1A", "#1A1AE8", "#1AE81A"]}, "legend": null}}},
  {"title": "Equal Proportions", "width": 92, "height": 74, "data": {"name": "d2d"}, "mark": "bar",
   "encoding": {"x": {"field": "x", "type": "quantitative", "bin": {"binned": true, "step": 0.0526}, "scale": {"domain": [-0.08, 1.08]}, "axis": {"values": [0, 0.25, 0.5, 0.75, 1], "format": ".2f", "title": "Contribution to Mixture"}},
    "y": {"field": "n", "type": "quantitative", "stack": null, "scale": {"nice": false, "padding": 2}, "axis": {"values": [0, 200, 400, 600], "format": "d", "title": "Number of Iterations"}},
    "color": {"field": "s", "type": "nominal", "scale": {"domain": ["Cluster 1", "Cluster 2", "Cluster 3"], "range": ["#E81A1A", "#1A1AE8", "#1AE81A"]}, "legend": null}}},
  {"title": {"text": ["Equal Proportions", "(random percentiles)"]}, "width": 92, "height": 68, "data": {"name": "d2e"}, "mark": "bar",
   "encoding": {"x": {"field": "x", "type": "quantitative", "bin": {"binned": true, "step": 0.0526}, "scale": {"domain": [-0.08, 1.08]}, "axis": {"values": [0, 0.25, 0.5, 0.75, 1], "format": ".2f", "title": "Contribution to Mixture"}},
    "y": {"field": "n", "type": "quantitative", "stack": null, "scale": {"nice": false, "padding": 2}, "axis": {"values": [0, 200, 400, 600], "format": "d", "title": "Number of Iterations"}},
    "color": {"field": "s", "type": "nominal", "scale": {"domain": ["Cluster 1", "Cluster 2", "Cluster 3"], "range": ["#E81A1A", "#1A1AE8", "#1AE81A"]}, "legend": {"title": "Source", "orient": "none", "legendX": 97, "legendY": 26}}}}
 ]},
{"title": {"text": "Four Cluster", "anchor": "start", "fontSize": 7.5, "offset": 0}, "spacing": 6,
 "resolve": {"scale": {"color": "independent"}, "legend": {"color": "independent"}},
 "hconcat": [
  {"title": "100% Cluster 1", "width": 93, "height": 71, "data": {"name": "d3a"}, "mark": "bar",
   "encoding": {"x": {"field": "x", "type": "quantitative", "bin": {"binned": true, "step": 0.0526}, "scale": {"domain": [-0.08, 1.08]}, "axis": {"values": [0, 0.25, 0.5, 0.75, 1], "format": ".2f", "title": "Contribution to Mixture"}},
    "y": {"field": "n", "type": "quantitative", "stack": null, "scale": {"nice": false, "padding": 2}, "axis": {"values": [0, 1000, 2000], "format": "d", "title": "Number of Iterations"}},
    "color": {"field": "s", "type": "nominal", "scale": {"domain": ["Cluster 1", "Cluster 2", "Cluster 3", "Cluster 4"], "range": ["#E81A1A", "#1A1AE8", "#1AE81A", "#EEB030"]}, "legend": null}}},
  {"title": "100% Cluster 2", "width": 93, "height": 71, "data": {"name": "d3b"}, "mark": "bar",
   "encoding": {"x": {"field": "x", "type": "quantitative", "bin": {"binned": true, "step": 0.0526}, "scale": {"domain": [-0.08, 1.08]}, "axis": {"values": [0, 0.25, 0.5, 0.75, 1], "format": ".2f", "title": "Contribution to Mixture"}},
    "y": {"field": "n", "type": "quantitative", "stack": null, "scale": {"nice": false, "padding": 2}, "axis": {"values": [0, 1000, 2000], "format": "d", "title": "Number of Iterations"}},
    "color": {"field": "s", "type": "nominal", "scale": {"domain": ["Cluster 1", "Cluster 2", "Cluster 3", "Cluster 4"], "range": ["#E81A1A", "#1A1AE8", "#1AE81A", "#EEB030"]}, "legend": null}}},
  {"title": "100% Cluster 3", "width": 93, "height": 71, "data": {"name": "d3c"}, "mark": "bar",
   "encoding": {"x": {"field": "x", "type": "quantitative", "bin": {"binned": true, "step": 0.0526}, "scale": {"domain": [-0.08, 1.08]}, "axis": {"values": [0, 0.25, 0.5, 0.75, 1], "format": ".2f", "title": "Contribution to Mixture"}},
    "y": {"field": "n", "type": "quantitative", "stack": null, "scale": {"nice": false, "padding": 2}, "axis": {"values": [0, 1000, 2000], "format": "d", "title": "Number of Iterations"}},
    "color": {"field": "s", "type": "nominal", "scale": {"domain": ["Cluster 1", "Cluster 2", "Cluster 3", "Cluster 4"], "range": ["#E81A1A", "#1A1AE8", "#1AE81A", "#EEB030"]}, "legend": null}}},
  {"title": "100% Cluster 4", "width": 93, "height": 71, "data": {"name": "d3d"}, "mark": "bar",
   "encoding": {"x": {"field": "x", "type": "quantitative", "bin": {"binned": true, "step": 0.0526}, "scale": {"domain": [-0.08, 1.08]}, "axis": {"values": [0, 0.25, 0.5, 0.75, 1], "format": ".2f", "title": "Contribution to Mixture"}},
    "y": {"field": "n", "type": "quantitative", "stack": null, "scale": {"nice": false, "padding": 2}, "axis": {"values": [0, 1000, 2000], "format": "d", "title": "Number of Iterations"}},
    "color": {"field": "s", "type": "nominal", "scale": {"domain": ["Cluster 1", "Cluster 2", "Cluster 3", "Cluster 4"], "range": ["#E81A1A", "#1A1AE8", "#1AE81A", "#EEB030"]}, "legend": null}}},
  {"title": "Equal Proportions", "width": 93, "height": 71, "data": {"name": "d3e"}, "mark": "bar",
   "encoding": {"x": {"field": "x", "type": "quantitative", "bin": {"binned": true, "step": 0.0526}, "scale": {"domain": [-0.08, 1.08]}, "axis": {"values": [0, 0.25, 0.5, 0.75, 1], "format": ".2f", "title": "Contribution to Mixture"}},
    "y": {"field": "n", "type": "quantitative", "stack": null, "scale": {"nice": false, "padding": 2}, "axis": {"values": [0, 250, 500, 750], "format": "d", "title": "Number of Iterations"}},
    "color": {"field": "s", "type": "nominal", "scale": {"domain": ["Cluster 1", "Cluster 2", "Cluster 3", "Cluster 4"], "range": ["#E81A1A", "#1A1AE8", "#1AE81A", "#EEB030"]}, "legend": null}}},
  {"title": {"text": ["Equal Proportions", "(random percentiles)"]}, "width": 93, "height": 65, "data": {"name": "d3f"}, "mark": "bar",
   "encoding": {"x": {"field": "x", "type": "quantitative", "bin": {"binned": true, "step": 0.0526}, "scale": {"domain": [-0.08, 1.08]}, "axis": {"values": [0, 0.25, 0.5, 0.75, 1], "format": ".2f", "title": "Contribution to Mixture"}},
    "y": {"field": "n", "type": "quantitative", "stack": null, "scale": {"nice": false, "padding": 2}, "axis": {"values": [0, 250, 500, 750], "format": "d", "title": "Number of Iterations"}},
    "color": {"field": "s", "type": "nominal", "scale": {"domain": ["Cluster 1", "Cluster 2", "Cluster 3", "Cluster 4"], "range": ["#E81A1A", "#1A1AE8", "#1AE81A", "#EEB030"]}, "legend": {"title": "Source", "orient": "none", "legendX": 96, "legendY": 22}}}}
 ]},
{"title": {"text": "Grouping 1", "anchor": "start", "fontSize": 7.5, "offset": 0}, "spacing": 13,
 "resolve": {"scale": {"color": "independent"}, "legend": {"color": "independent"}},
 "hconcat": [
  {"title": "100% Ironstone", "width": 95, "height": 74, "data": {"name": "d4a"}, "mark": "bar",
   "encoding": {"x": {"field": "x", "type": "quantitative", "bin": {"binned": true, "step": 0.0526}, "scale": {"domain": [-0.08, 1.08]}, "axis": {"values": [0, 0.25, 0.5, 0.75, 1], "format": ".2f", "title": "Contribution to Mixture"}},
    "y": {"field": "n", "type": "quantitative", "stack": null, "scale": {"nice": false, "padding": 2}, "axis": {"values": [0, 2000, 4000, 6000], "format": "d", "title": "Number of Iterations"}},
    "color": {"field": "s", "type": "nominal", "scale": {"domain": ["Ironstone", "Sand, Lime, Clay and Banks"], "range": ["#E81A1A", "#1A1AE8"]}, "legend": null}}},
  {"title": {"text": ["100% Sand,Lime,Clay", "and Banks"]}, "width": 92, "height": 68, "data": {"name": "d4b"}, "mark": "bar",
   "encoding": {"x": {"field": "x", "type": "quantitative", "bin": {"binned": true, "step": 0.0526}, "scale": {"domain": [-0.08, 1.08]}, "axis": {"values": [0, 0.25, 0.5, 0.75, 1], "format": ".2f", "title": "Contribution to Mixture"}},
    "y": {"field": "n", "type": "quantitative", "stack": null, "scale": {"nice": false, "padding": 2}, "axis": {"values": [0, 500, 1000, 1500], "format": "d", "title": "Number of Iterations"}},
    "color": {"field": "s", "type": "nominal", "scale": {"domain": ["Ironstone", "Sand, Lime, Clay and Banks"], "range": ["#E81A1A", "#1A1AE8"]}, "legend": null}}},
  {"title": "Equal Proportions", "width": 95, "height": 74, "data": {"name": "d4c"}, "mark": "bar",
   "encoding": {"x": {"field": "x", "type": "quantitative", "bin": {"binned": true, "step": 0.0526}, "scale": {"domain": [-0.08, 1.08]}, "axis": {"values": [0, 0.25, 0.5, 0.75, 1], "format": ".2f", "title": "Contribution to Mixture"}},
    "y": {"field": "n", "type": "quantitative", "stack": null, "scale": {"nice": false, "padding": 2}, "axis": {"values": [0, 1000, 2000, 3000, 4000], "format": "d", "title": "Number of Iterations"}},
    "color": {"field": "s", "type": "nominal", "scale": {"domain": ["Ironstone", "Sand, Lime, Clay and Banks"], "range": ["#E81A1A", "#1A1AE8"]}, "legend": null}}},
  {"title": {"text": ["Equal Proportions", "(random percentiles)"]}, "width": 92, "height": 68, "data": {"name": "d4d"}, "mark": "bar",
   "encoding": {"x": {"field": "x", "type": "quantitative", "bin": {"binned": true, "step": 0.0526}, "scale": {"domain": [-0.08, 1.08]}, "axis": {"values": [0, 0.25, 0.5, 0.75, 1], "format": ".2f", "title": "Contribution to Mixture"}},
    "y": {"field": "n", "type": "quantitative", "stack": null, "scale": {"nice": false, "padding": 2}, "axis": {"values": [0, 1000, 2000, 3000, 4000], "format": "d", "title": "Number of Iterations"}},
    "color": {"field": "s", "type": "nominal", "scale": {"domain": ["Ironstone", "Sand, Lime, Clay and Banks"], "range": ["#E81A1A", "#1A1AE8"]}, "legend": {"title": "Source", "orient": "none", "legendX": 76, "legendY": 26}}}}
 ]},
{"title": {"text": "Grouping 2", "anchor": "start", "fontSize": 7.5, "offset": 0}, "spacing": 5,
 "resolve": {"scale": {"color": "independent"}, "legend": {"color": "independent"}},
 "hconcat": [
  {"title": "100% Ironstone", "width": 88, "height": 72, "data": {"name": "d5a"}, "mark": "bar",
   "encoding": {"x": {"field": "x", "type": "quantitative", "bin": {"binned": true, "step": 0.0526}, "scale": {"domain": [-0.08, 1.08]}, "axis": {"values": [0, 0.25, 0.5, 0.75, 1], "format": ".2f", "title": "Contribution to Mixture"}},
    "y": {"field": "n", "type": "quantitative", "stack": null, "scale": {"nice": false, "padding": 2}, "axis": {"values": [0, 500, 1000, 1500, 2000], "format": "d", "title": "Number of Iterations"}},
    "color": {"field": "s", "type": "nominal", "scale": {"domain": ["Ironstone", "Sandstone", "Lime, Clay and Banks"], "range": ["#E81A1A", "#1A1AE8", "#1AE81A"]}, "legend": null}}},
  {"title": "100% Sandstone", "width": 88, "height": 72, "data": {"name": "d5b"}, "mark": "bar",
   "encoding": {"x": {"field": "x", "type": "quantitative", "bin": {"binned": true, "step": 0.0526}, "scale": {"domain": [-0.08, 1.08]}, "axis": {"values": [0, 0.25, 0.5, 0.75, 1], "format": ".2f", "title": "Contribution to Mixture"}},
    "y": {"field": "n", "type": "quantitative", "stack": null, "scale": {"nice": false, "padding": 2}, "axis": {"values": [0, 500, 1000, 1500], "format": "d", "title": "Number of Iterations"}},
    "color": {"field": "s", "type": "nominal", "scale": {"domain": ["Ironstone", "Sandstone", "Lime, Clay and Banks"], "range": ["#E81A1A", "#1A1AE8", "#1AE81A"]}, "legend": null}}},
  {"title": "100% Lime,Clay and Banks", "width": 82, "height": 72, "data": {"name": "d5c"}, "mark": "bar",
   "encoding": {"x": {"field": "x", "type": "quantitative", "bin": {"binned": true, "step": 0.0526}, "scale": {"domain": [-0.08, 1.08]}, "axis": {"values": [0, 0.25, 0.5, 0.75, 1], "format": ".2f", "title": "Contribution to Mixture"}},
    "y": {"field": "n", "type": "quantitative", "stack": null, "scale": {"nice": false, "padding": 2}, "axis": {"values": [0, 500, 1000, 1500, 2000], "format": "d", "title": "Number of Iterations"}},
    "color": {"field": "s", "type": "nominal", "scale": {"domain": ["Ironstone", "Sandstone", "Lime, Clay and Banks"], "range": ["#E81A1A", "#1A1AE8", "#1AE81A"]}, "legend": null}}},
  {"title": "Equal Proportions", "width": 92, "height": 72, "data": {"name": "d5d"}, "mark": "bar",
   "encoding": {"x": {"field": "x", "type": "quantitative", "bin": {"binned": true, "step": 0.0526}, "scale": {"domain": [-0.08, 1.08]}, "axis": {"values": [0, 0.25, 0.5, 0.75, 1], "format": ".2f", "title": "Contribution to Mixture"}},
    "y": {"field": "n", "type": "quantitative", "stack": null, "scale": {"nice": false, "padding": 2}, "axis": {"values": [0, 500, 1000, 1500], "format": "d", "title": "Number of Iterations"}},
    "color": {"field": "s", "type": "nominal", "scale": {"domain": ["Ironstone", "Sandstone", "Lime, Clay and Banks"], "range": ["#E81A1A", "#1A1AE8", "#1AE81A"]}, "legend": null}}},
  {"title": {"text": ["Equal Proportions", "(random percentiles)"]}, "width": 87, "height": 66, "data": {"name": "d5e"}, "mark": "bar",
   "encoding": {"x": {"field": "x", "type": "quantitative", "bin": {"binned": true, "step": 0.0526}, "scale": {"domain": [-0.08, 1.08]}, "axis": {"values": [0, 0.25, 0.5, 0.75, 1], "format": ".2f", "title": "Contribution to Mixture"}},
    "y": {"field": "n", "type": "quantitative", "stack": null, "scale": {"nice": false, "padding": 2}, "axis": {"values": [0, 500, 1000, 1500], "format": "d", "title": "Number of Iterations"}},
    "color": {"field": "s", "type": "nominal", "scale": {"domain": ["Ironstone", "Sandstone", "Lime, Clay and Banks"], "range": ["#E81A1A", "#1A1AE8", "#1AE81A"]}, "legend": {"title": "Source", "orient": "none", "legendX": 80, "legendY": 30}}}}
 ]}
]
}
